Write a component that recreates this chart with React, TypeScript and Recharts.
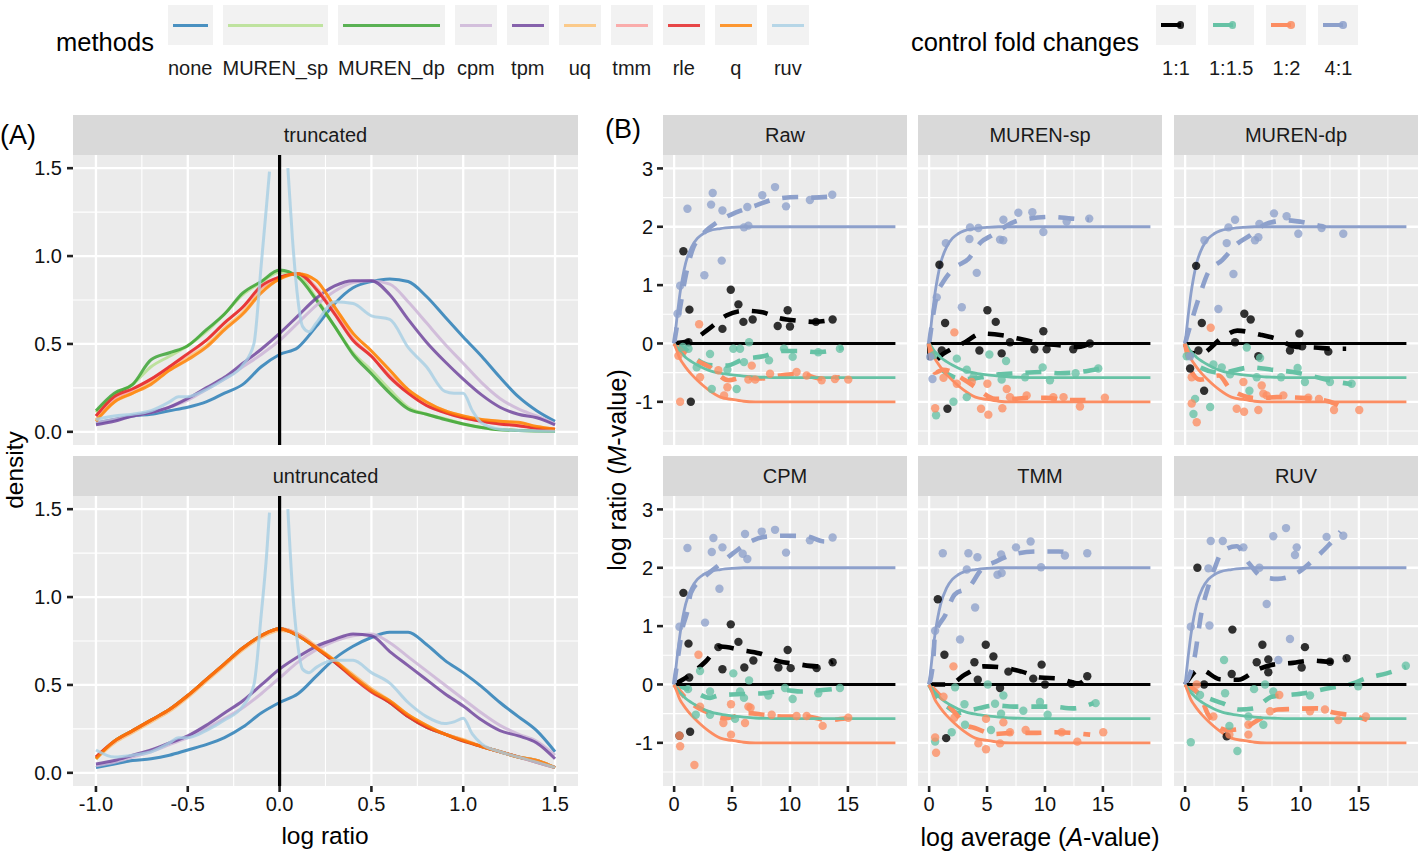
import React from 'react';
import { ComposedChart, LineChart, Line, Scatter, XAxis, YAxis, CartesianGrid, ReferenceLine } from 'recharts';

const FONT = '"Liberation Sans", Arial, Helvetica, sans-serif';
const PANEL_BG = '#EBEBEB';
const STRIP_BG = '#D9D9D9';

// ---------------- Panel A: density of log ratios ----------------
const methods = ['none', 'MUREN_sp', 'MUREN_dp', 'cpm', 'tpm', 'uq', 'tmm', 'rle', 'q', 'ruv'];
const methodColors = ['#1F78B4', '#B2DF8A', '#33A02C', '#CAB2D6', '#6A3D9A', '#FDBF6F', '#FB9A99', '#E31A1C', '#FF7F00', '#A6CEE3'];

const densityX = [-1, -0.9, -0.8, -0.7, -0.6, -0.5, -0.4, -0.3, -0.2, -0.1, 0, 0.1, 0.2, 0.3, 0.4, 0.5, 0.6, 0.7, 0.8, 0.9, 1.0, 1.1, 1.2, 1.3, 1.4, 1.5];
const ruvX = [-1, -0.9, -0.8, -0.7, -0.6, -0.55, -0.5, -0.4, -0.3, -0.2, -0.14, -0.1, -0.07, -0.055, -0.02, 0.02, 0.045, 0.07, 0.1, 0.125, 0.16, 0.2, 0.3, 0.4, 0.5, 0.6, 0.7, 0.8, 0.9, 0.95, 1.0, 1.05, 1.1, 1.2, 1.3, 1.4, 1.5];

const truncNone = [0.05, 0.07, 0.09, 0.1, 0.12, 0.14, 0.17, 0.22, 0.27, 0.37, 0.44, 0.48, 0.6, 0.73, 0.82, 0.855, 0.87, 0.855, 0.77, 0.655, 0.54, 0.43, 0.31, 0.2, 0.12, 0.06];
const truncMurenSp = [0.11, 0.21, 0.27, 0.37, 0.43, 0.49, 0.57, 0.67, 0.78, 0.85, 0.91, 0.89, 0.76, 0.6, 0.45, 0.35, 0.24, 0.14, 0.1, 0.075, 0.045, 0.025, 0.012, 0.008, 0.005, 0.003];
const truncMurenDp = [0.12, 0.22, 0.27, 0.41, 0.45, 0.49, 0.58, 0.67, 0.79, 0.855, 0.92, 0.88, 0.75, 0.6, 0.44, 0.33, 0.22, 0.13, 0.1, 0.07, 0.045, 0.025, 0.012, 0.008, 0.005, 0.003];
const truncCpm = [0.05, 0.07, 0.09, 0.11, 0.14, 0.18, 0.24, 0.3, 0.37, 0.44, 0.52, 0.62, 0.72, 0.8, 0.85, 0.86, 0.84, 0.74, 0.62, 0.5, 0.39, 0.28, 0.19, 0.13, 0.09, 0.045];
const truncTpm = [0.04, 0.06, 0.09, 0.11, 0.14, 0.19, 0.25, 0.31, 0.39, 0.47, 0.56, 0.66, 0.76, 0.83, 0.86, 0.86, 0.78, 0.64, 0.51, 0.4, 0.3, 0.21, 0.14, 0.1, 0.08, 0.04];
const truncUq = [0.07, 0.17, 0.22, 0.28, 0.35, 0.42, 0.49, 0.59, 0.68, 0.8, 0.87, 0.9, 0.86, 0.71, 0.56, 0.46, 0.35, 0.24, 0.17, 0.12, 0.09, 0.07, 0.06, 0.05, 0.03, 0.015];
const truncTmm = [0.09, 0.19, 0.24, 0.3, 0.37, 0.44, 0.52, 0.62, 0.71, 0.82, 0.88, 0.9, 0.82, 0.68, 0.53, 0.43, 0.32, 0.22, 0.15, 0.11, 0.08, 0.06, 0.045, 0.035, 0.02, 0.015];
const truncRle = [0.09, 0.2, 0.245, 0.3, 0.37, 0.445, 0.52, 0.62, 0.71, 0.83, 0.88, 0.9, 0.81, 0.67, 0.52, 0.43, 0.31, 0.22, 0.15, 0.11, 0.08, 0.06, 0.045, 0.035, 0.02, 0.015];
const truncQ = [0.06, 0.17, 0.22, 0.27, 0.35, 0.41, 0.48, 0.58, 0.67, 0.79, 0.87, 0.9, 0.86, 0.71, 0.56, 0.46, 0.35, 0.24, 0.17, 0.12, 0.09, 0.07, 0.06, 0.055, 0.03, 0.015];
const truncRuv = [0.07, 0.09, 0.1, 0.12, 0.17, 0.2, 0.2, 0.24, 0.3, 0.38, 0.5, 0.95, 1.3, 1.48, null, null, 1.5, 1.1, 0.75, 0.6, 0.57, 0.62, 0.74, 0.73, 0.66, 0.64, 0.48, 0.37, 0.23, 0.22, 0.22, 0.12, 0.05, 0.015, 0.008, 0.005, 0.003];

const untrNone = [0.03, 0.05, 0.07, 0.08, 0.1, 0.13, 0.16, 0.2, 0.26, 0.34, 0.4, 0.45, 0.55, 0.65, 0.72, 0.77, 0.8, 0.8, 0.73, 0.64, 0.57, 0.49, 0.4, 0.32, 0.24, 0.12];
const untrMurenSp = [0.09, 0.18, 0.24, 0.3, 0.36, 0.44, 0.53, 0.62, 0.71, 0.78, 0.82, 0.79, 0.71, 0.63, 0.55, 0.47, 0.4, 0.32, 0.26, 0.22, 0.18, 0.15, 0.12, 0.09, 0.07, 0.03];
const untrMurenDp = [0.08, 0.18, 0.24, 0.3, 0.36, 0.44, 0.53, 0.62, 0.71, 0.78, 0.82, 0.78, 0.71, 0.63, 0.55, 0.47, 0.4, 0.32, 0.26, 0.22, 0.185, 0.15, 0.12, 0.09, 0.07, 0.03];
const untrCpm = [0.04, 0.06, 0.09, 0.12, 0.16, 0.2, 0.25, 0.31, 0.37, 0.45, 0.54, 0.63, 0.7, 0.75, 0.78, 0.79, 0.74, 0.66, 0.58, 0.5, 0.42, 0.34, 0.27, 0.22, 0.18, 0.1];
const untrTpm = [0.05, 0.07, 0.1, 0.13, 0.17, 0.21, 0.27, 0.34, 0.41, 0.5, 0.59, 0.66, 0.72, 0.76, 0.79, 0.78, 0.69, 0.61, 0.53, 0.45, 0.38, 0.3, 0.24, 0.21, 0.17, 0.08];
const untrUq = [0.08, 0.17, 0.23, 0.29, 0.35, 0.43, 0.52, 0.61, 0.7, 0.77, 0.81, 0.79, 0.72, 0.64, 0.56, 0.48, 0.41, 0.33, 0.27, 0.22, 0.19, 0.15, 0.12, 0.09, 0.07, 0.03];
const untrTmm = [0.09, 0.18, 0.24, 0.3, 0.36, 0.44, 0.53, 0.62, 0.71, 0.78, 0.82, 0.79, 0.71, 0.63, 0.55, 0.47, 0.4, 0.32, 0.26, 0.22, 0.185, 0.15, 0.12, 0.09, 0.07, 0.03];
const untrRle = [0.09, 0.18, 0.24, 0.3, 0.36, 0.44, 0.53, 0.62, 0.71, 0.78, 0.82, 0.78, 0.71, 0.63, 0.54, 0.46, 0.4, 0.32, 0.26, 0.22, 0.18, 0.15, 0.12, 0.09, 0.06, 0.03];
const untrQ = [0.08, 0.18, 0.24, 0.3, 0.36, 0.44, 0.53, 0.62, 0.71, 0.78, 0.82, 0.78, 0.71, 0.64, 0.55, 0.47, 0.41, 0.33, 0.27, 0.22, 0.185, 0.15, 0.12, 0.09, 0.07, 0.03];
const untrRuv = [0.13, 0.09, 0.1, 0.12, 0.17, 0.2, 0.2, 0.24, 0.3, 0.38, 0.5, 0.9, 1.25, 1.48, null, null, 1.5, 1.05, 0.72, 0.59, 0.57, 0.6, 0.64, 0.64, 0.57, 0.51, 0.4, 0.32, 0.28, 0.29, 0.31, 0.22, 0.165, 0.12, 0.09, 0.06, 0.03];

const densityTicksX = [-1, -0.5, 0, 0.5, 1, 1.5];
const densityMinorX = [-0.75, -0.25, 0.25, 0.75, 1.25];
const densityTicksY = [0, 0.5, 1, 1.5];
const densityMinorY = [0.25, 0.75, 1.25];

// ---------------- Panel B: M vs A ----------------
const foldLabels = ['1:1', '1:1.5', '1:2', '4:1'];
const foldColors = ['#000000', '#66C2A5', '#FC8D62', '#8DA0CB'];

const theoryA = [0, 0.25, 0.5, 0.75, 1, 1.5, 2, 2.5, 3, 4, 5, 6, 7, 8, 10, 19.1];
const theory11 = [0, 0, 0, 0, 0, 0, 0, 0, 0, 0, 0, 0, 0, 0, 0, 0];
const theory15 = [0, -0.07, -0.14, -0.19, -0.24, -0.31, -0.37, -0.42, -0.46, -0.51, -0.54, -0.56, -0.575, -0.58, -0.585, -0.585];
const theory12 = [0, -0.13, -0.26, -0.34, -0.41, -0.53, -0.63, -0.72, -0.8, -0.92, -0.96, -0.99, -1, -1, -1, -1];
const theory41 = [0, 0.45, 0.85, 1.15, 1.38, 1.65, 1.8, 1.88, 1.93, 1.97, 1.99, 2, 2, 2, 2, 2];

// Raw
const raw11Pts = [[0.8, 1.58], [1.32, 0.58], [4.17, 0.25], [4.89, 0.92], [5.55, 0.67], [5.98, 0.37], [6.78, 0.41], [8.94, 0.3], [9.8, 0.57], [10.0, 0.29], [12.24, 0.37], [13.68, 0.41], [1.44, -1.0], [1.24, 0.02]];
const raw11Fit = [[0, 0], [1.5, 0.05], [3, 0.25], [4.5, 0.48], [6, 0.56], [7.5, 0.54], [9, 0.44], [10.7, 0.39], [12.2, 0.37], [13.9, 0.42]];
const raw15Pts = [[0.75, -0.06], [1.24, -0.09], [1.95, -0.41], [3.1, -0.18], [3.25, -0.78], [5.11, -0.09], [5.69, -0.09], [6.47, 0.02], [6.03, -0.32], [8.19, -0.29], [9.48, -0.09], [10.23, -0.23], [12.44, -0.15], [14.31, -0.09], [5.4, -0.78], [4.6, -0.45]];
const raw15Fit = [[0, 0], [1, -0.1], [2, -0.28], [3, -0.37], [4.5, -0.38], [6, -0.27], [7.7, -0.22], [9.3, -0.13], [10.9, -0.13], [12.3, -0.15], [14.6, -0.07]];
const raw12Pts = [[0.52, -1.0], [2.16, 0.33], [2.24, -0.58], [3.82, -0.46], [4.31, -0.89], [6.7, -0.38], [6.41, -0.62], [7.0, -0.62], [8.28, -0.52], [10.57, -0.49], [11.44, -0.55], [12.73, -0.63], [13.88, -0.61], [15.03, -0.62], [0.37, -0.21], [4.6, -0.75]];
const raw12Fit = [[0, 0], [1.4, -0.23], [3.1, -0.41], [4.7, -0.63], [6, -0.58], [7.4, -0.6], [9.1, -0.55], [10.9, -0.52], [12.6, -0.6], [14.3, -0.58]];
const raw41Pts = [[1.15, 2.31], [3.33, 2.58], [3.19, 2.38], [4.17, 2.28], [6.32, 2.34], [7.61, 2.54], [8.71, 2.68], [9.66, 2.35], [11.72, 2.46], [13.65, 2.55], [6.03, 1.99], [6.41, 2.02], [4.11, 1.42], [2.61, 1.17], [0.52, 0.99], [0.29, 0.51]];
const raw41Fit = [[0, 0], [0.52, 0.62], [1.03, 1.19], [1.67, 1.65], [2.24, 1.82], [3.97, 2.11], [5.4, 2.25], [7.13, 2.37], [8.85, 2.48], [10.86, 2.51], [12.0, 2.5], [13.65, 2.52]];

// MUREN-sp
const sp11Pts = [[0.89, 1.35], [1.38, 0.35], [5.03, 0.57], [5.75, 0.37], [9.86, 0.21], [1.09, -0.12], [4.34, -0.12], [6.26, -0.17], [6.98, 0.02], [9.08, -0.1], [10.14, -0.1], [12.44, -0.1], [13.88, 0.0], [1.58, -1.12]];
const sp11Fit = [[0, 0], [0.1, -0.35], [1.2, -0.18], [3.1, 0.02], [4.5, 0.17], [6.3, 0.14], [7.8, 0.08], [9.7, 0], [11.2, -0.03], [12.9, -0.06], [14, 0.02]];
const sp15Pts = [[2.39, -0.26], [5.2, -0.19], [6.64, -0.3], [3.25, -0.45], [3.82, -0.58], [6.26, -0.62], [8.28, -0.58], [9.8, -0.41], [10.43, -0.63], [12.64, -0.51], [14.6, -0.43], [2.1, -1.0], [0.6, -1.23], [3.25, -0.92], [0.4, -0.2]];
const sp15Fit = [[0, 0], [0.95, -0.43], [3, -0.61], [4.5, -0.58], [6, -0.53], [7.6, -0.51], [9.7, -0.49], [11.3, -0.51], [13, -0.49], [14.7, -0.43]];
const sp12Pts = [[2.18, 0.19], [1.24, -0.59], [2.39, -0.69], [3.68, -0.66], [5.03, -0.69], [6.7, -0.78], [6.98, -0.92], [8.42, -0.89], [10.72, -0.92], [11.6, -0.92], [13.02, -1.08], [15.17, -0.93], [0.52, -1.11], [4.48, -1.12], [5.11, -1.22], [6.32, -1.11]];
const sp12Fit = [[0, 0], [0.5, -0.5], [1.2, -0.45], [3.1, -0.63], [4, -0.75], [5.7, -0.95], [7.3, -0.95], [8.7, -0.93], [10.1, -0.93], [11.9, -0.97], [13.5, -0.97]];
const sp41Pts = [[1.44, 1.72], [3.53, 1.99], [4.25, 1.98], [3.48, 1.79], [6.41, 2.12], [7.7, 2.24], [8.91, 2.25], [6.12, 1.78], [6.4, 1.77], [9.86, 1.91], [11.87, 2.09], [13.82, 2.14], [4.11, 1.21], [2.82, 0.62], [0.66, 0.79], [0.09, -0.23], [0.29, -0.61]];
const sp41Fit = [[0, 0], [0.7, 0.85], [1.2, 1.05], [2.1, 1.28], [3.4, 1.45], [4.5, 1.74], [5.4, 1.85], [7.3, 2.08], [8.7, 2.14], [10.6, 2.17], [12.3, 2.14], [13.8, 2.12]];

// MUREN-dp
const dp11Pts = [[0.95, 1.33], [1.44, 0.35], [5.11, 0.51], [5.66, 0.41], [4.31, 0.02], [9.86, 0.17], [9.05, -0.12], [12.36, -0.14], [6.32, -0.22], [1.15, -0.12], [0.43, -0.43], [1.64, -0.81], [10.1, -0.05]];
const dp11Fit = [[0, 0], [0.3, -0.15], [1.3, -0.18], [3.2, 0.1], [4.5, 0.22], [6.5, 0.15], [7.9, 0.08], [9.6, -0.06], [11.2, -0.07], [12.9, -0.09], [13.9, -0.09]];
const dp15Pts = [[0.14, -0.22], [2.44, -0.36], [3.16, -0.41], [5.32, -0.07], [6.47, -0.25], [3.88, -0.53], [6.18, -0.58], [8.28, -0.58], [9.71, -0.42], [10.34, -0.66], [12.5, -0.66], [14.37, -0.69], [5.55, -0.81], [2.16, -1.09], [0.72, -1.21], [0.86, -0.95]];
const dp15Fit = [[0, 0], [1.3, -0.41], [3, -0.5], [5.75, -0.41], [7.5, -0.45], [9.3, -0.49], [10.8, -0.55], [12.4, -0.63], [14.4, -0.7]];
const dp12Pts = [[2.21, 0.27], [0.57, -0.58], [5.03, -0.66], [6.61, -0.72], [6.75, -0.86], [7.04, -0.89], [8.48, -0.89], [10.63, -0.93], [11.55, -0.95], [12.85, -1.14], [15.03, -1.14], [4.45, -1.12], [5.09, -1.17], [6.32, -1.14], [1.0, -1.35], [0.57, -1.03]];
const dp12Fit = [[0, 0], [0.6, -0.5], [1.3, -0.62], [2.9, -0.55], [3.9, -0.78], [6.2, -0.94], [7.9, -0.92], [10, -0.93], [12.5, -1.0], [13.2, -1.06]];
const dp41Pts = [[1.67, 1.77], [3.74, 1.99], [4.31, 2.12], [3.59, 1.72], [6.41, 2.05], [6.03, 1.77], [6.32, 1.82], [7.67, 2.23], [8.76, 2.18], [9.77, 1.88], [11.78, 1.98], [13.65, 1.88], [4.17, 1.19], [2.87, 0.59], [0.43, -0.22]];
const dp41Fit = [[0, 0], [1.3, 0.85], [2, 1.22], [3.2, 1.43], [4.5, 1.71], [5.6, 1.85], [7, 2.05], [8.8, 2.11], [10.6, 2.06], [12.1, 1.99]];

// CPM
const cpm11Pts = [[0.8, 1.57], [1.24, 0.7], [3.82, 0.64], [4.17, 0.26], [4.89, 1.03], [5.55, 0.73], [6.06, 0.29], [6.84, 0.41], [9.0, 0.29], [9.8, 0.59], [10.06, 0.28], [12.3, 0.28], [13.68, 0.38], [1.38, -0.81], [0.46, -0.88], [1.3, 0.12]];
const cpm11Fit = [[0, 0], [1.4, 0.17], [2.7, 0.39], [4, 0.65], [5.8, 0.59], [7.4, 0.53], [9, 0.4], [10.6, 0.35], [12.3, 0.31], [13.7, 0.39]];
const cpm15Pts = [[2.24, 0.23], [5.11, 0.19], [6.47, 0.07], [3.1, -0.12], [5.69, -0.12], [6.03, -0.23], [8.13, -0.19], [9.57, -0.06], [10.23, -0.25], [12.44, -0.15], [14.31, -0.06], [1.87, -0.52], [5.26, -0.59], [3.1, -0.52], [1.2, -0.08]];
const cpm15Fit = [[0, 0], [1.4, -0.09], [3.1, -0.23], [3.8, -0.19], [6.4, -0.16], [7.8, -0.15], [9.7, -0.1], [10.9, -0.12], [12.6, -0.1], [14.6, -0.06]];
const cpm12Pts = [[2.1, 0.51], [2.24, -0.38], [4.91, -0.34], [4.25, -0.66], [4.91, -0.86], [6.12, -0.66], [6.41, -0.38], [6.6, -0.4], [8.42, -0.52], [10.57, -0.54], [11.44, -0.54], [12.82, -0.71], [15.03, -0.57], [0.52, -1.06], [1.75, -1.38], [0.46, -0.88]];
const cpm12Fit = [[0, 0], [1.4, -0.31], [3, -0.49], [4.5, -0.58], [6.3, -0.49], [7.8, -0.52], [9.6, -0.55], [11.4, -0.55], [13.2, -0.61], [14.9, -0.58]];
const cpm41Pts = [[1.15, 2.34], [3.39, 2.51], [3.25, 2.27], [4.17, 2.35], [6.12, 2.58], [5.92, 2.24], [6.32, 2.15], [7.56, 2.62], [8.71, 2.65], [9.66, 2.26], [11.72, 2.47], [13.68, 2.52], [3.91, 1.64], [2.67, 1.06], [0.46, 0.99]];
const cpm41Fit = [[0, 0], [0.3, 0.42], [0.75, 0.99], [1.1, 1.22], [1.45, 1.57], [2.5, 1.82], [3.7, 2.02], [5.1, 2.25], [6.3, 2.42], [7.8, 2.53], [9.6, 2.55], [11.4, 2.54], [13, 2.45], [13.7, 2.54]];

// TMM
const tmm11Pts = [[0.75, 1.46], [1.32, 0.51], [4.89, 0.68], [5.55, 0.48], [3.91, 0.38], [4.2, 0.08], [9.71, 0.34], [8.99, 0.1], [12.3, 0.01], [13.65, 0.14], [6.12, -0.06], [1.47, -0.92], [6.84, 0.22], [10.0, 0.0]];
const tmm11Fit = [[0, 0], [1.7, 0], [3.1, 0.17], [4.7, 0.31], [6.4, 0.29], [8, 0.22], [9.6, 0.12], [11.2, 0.1], [12.9, 0.02], [13.7, 0.14]];
const tmm15Pts = [[2.24, -0.05], [5.06, 0.0], [6.41, -0.19], [3.05, -0.34], [5.69, -0.33], [9.57, -0.3], [6.21, -0.5], [8.13, -0.45], [10.23, -0.52], [14.37, -0.32], [3.1, -0.69], [1.95, -0.82], [5.34, -0.78], [0.52, -0.98]];
const tmm15Fit = [[0, 0], [0.5, -0.18], [1.7, -0.4], [2.5, -0.49], [3.8, -0.43], [5.7, -0.36], [7.3, -0.38], [9, -0.38], [10.6, -0.38], [12.4, -0.41], [14.2, -0.32]];
const tmm12Pts = [[2.1, 0.31], [2.18, -0.57], [4.91, -0.59], [6.41, -0.65], [6.98, -0.82], [8.33, -0.78], [11.44, -0.82], [12.79, -0.98], [15.03, -0.82], [4.25, -1.01], [4.91, -1.11], [6.12, -1.01], [0.52, -0.91], [0.6, -1.17], [1.24, -0.21]];
const tmm12Fit = [[0, 0], [1.4, -0.29], [2.5, -0.55], [3.1, -0.69], [4, -0.75], [5.6, -0.85], [7.1, -0.83], [9, -0.83], [10.7, -0.82], [12.3, -0.83], [13.9, -0.86]];
const tmm41Pts = [[1.18, 2.25], [3.39, 2.25], [4.17, 2.18], [3.25, 1.97], [6.21, 2.23], [6.26, 1.91], [5.9, 1.88], [7.5, 2.35], [8.76, 2.45], [9.66, 2.01], [11.72, 2.21], [13.65, 2.25], [3.97, 1.32], [2.67, 0.77], [0.52, 0.92]];
const tmm41Fit = [[0, 0], [0.37, 0.45], [0.5, 0.85], [1.4, 1.19], [2.2, 1.54], [3.5, 1.68], [4.5, 1.97], [5.8, 2.11], [7.7, 2.25], [9.3, 2.28], [11.2, 2.28], [12.6, 2.22]];

// RUV
const ruv11Pts = [[1.06, 2.0], [4.08, 0.94], [6.67, 0.68], [6.18, 0.38], [7.18, 0.43], [7.18, 0.21], [10.34, 0.64], [10.06, 0.29], [12.5, 0.39], [13.94, 0.45], [4.02, 0.18], [1.64, 0.0], [3.59, -0.89]];
const ruv11Fit = [[0, 0], [1.3, 0.26], [3, 0.09], [4.6, 0.08], [6.2, 0.25], [7.6, 0.34], [9.3, 0.37], [10.9, 0.41], [12.5, 0.39], [13.9, 0.45]];
const ruv15Pts = [[3.36, 0.42], [3.45, -0.15], [5.95, -0.08], [7.61, -0.12], [10.78, -0.19], [14.94, -0.03], [19.05, 0.32], [5.46, -0.55], [6.75, -0.69], [3.82, -0.71], [0.49, -0.99], [4.51, -1.14], [1.29, -0.18], [6.9, 0.0]];
const ruv15Fit = [[0, 0], [1.6, -0.2], [3.2, -0.32], [4.7, -0.43], [5.9, -0.41], [7.5, -0.21], [9, -0.18], [10.3, -0.15], [12.5, -0.06], [14.2, 0], [15.7, 0.11], [17.4, 0.19], [19.05, 0.3]];
const ruv12Pts = [[1.0, 0.0], [8.13, -0.18], [7.33, -0.46], [10.78, -0.46], [12.07, -0.43], [13.22, -0.61], [15.6, -0.55], [3.82, -0.86], [5.46, -0.86], [5.46, -0.69], [2.44, -0.55]];
const ruv12Fit = [[0, 0], [1.3, -0.2], [2, -0.52], [3.6, -0.78], [5, -0.75], [6.3, -0.61], [8, -0.43], [9.3, -0.42], [11.4, -0.41], [12.8, -0.48], [14.8, -0.55], [15.7, -0.61]];
const ruv41Pts = [[2.21, 2.46], [3.25, 2.46], [2.01, 1.99], [5.03, 2.35], [6.41, 2.0], [7.61, 2.54], [8.71, 2.68], [9.63, 2.35], [9.48, 2.22], [12.21, 2.53], [13.65, 2.55], [7.04, 1.38], [9.05, 0.78], [8.05, 0.42], [0.49, 0.99], [2.1, 1.01]];
const ruv41Fit = [[0, 0], [0.8, 0.45], [1.4, 1.22], [2, 1.68], [2.6, 2.02], [3.2, 2.28], [4.45, 2.37], [5.5, 2.08], [6.6, 1.85], [8, 1.81], [9.9, 1.94], [11.1, 2.14], [12.4, 2.39], [13.4, 2.62]];

const facetTitles = ['Raw', 'MUREN-sp', 'MUREN-dp', 'CPM', 'TMM', 'RUV'];
const facetPoints = [
  [raw11Pts, raw15Pts, raw12Pts, raw41Pts],
  [sp11Pts, sp15Pts, sp12Pts, sp41Pts],
  [dp11Pts, dp15Pts, dp12Pts, dp41Pts],
  [cpm11Pts, cpm15Pts, cpm12Pts, cpm41Pts],
  [tmm11Pts, tmm15Pts, tmm12Pts, tmm41Pts],
  [ruv11Pts, ruv15Pts, ruv12Pts, ruv41Pts],
];
const facetFits = [
  [raw11Fit, raw15Fit, raw12Fit, raw41Fit],
  [sp11Fit, sp15Fit, sp12Fit, sp41Fit],
  [dp11Fit, dp15Fit, dp12Fit, dp41Fit],
  [cpm11Fit, cpm15Fit, cpm12Fit, cpm41Fit],
  [tmm11Fit, tmm15Fit, tmm12Fit, tmm41Fit],
  [ruv11Fit, ruv15Fit, ruv12Fit, ruv41Fit],
];
const theoryCurves = [theory11, theory15, theory12, theory41];

const maTicksX = [0, 5, 10, 15];
const maMinorX = [2.5, 7.5, 12.5, 17.5];
const maTicksY = [-1, 0, 1, 2, 3];
const maMinorY = [-1.5, -0.5, 0.5, 1.5, 2.5];

// ---------------- helpers ----------------
const toXY = (xs: number[], ys: (number | null)[]) => xs.map((x, i) => ({ x, y: ys[i] }));
const toAM = (pairs: number[][]) => pairs.map(([a, m]) => ({ a, m }));

const densityTrunc = [truncNone, truncMurenSp, truncMurenDp, truncCpm, truncTpm, truncUq, truncTmm, truncRle, truncQ];
const densityUntr = [untrNone, untrMurenSp, untrMurenDp, untrCpm, untrTpm, untrUq, untrTmm, untrRle, untrQ];

function Text({ x, y, size, children, rotate, color }: any) {
  return (
    <div
      style={{
        position: 'absolute', left: x, top: y, fontSize: size, lineHeight: 1, whiteSpace: 'nowrap',
        color: color || '#000', fontFamily: FONT,
        transform: `translate(-50%, -50%)${rotate ? ' rotate(-90deg)' : ''}`,
      }}
    >
      {children}
    </div>
  );
}

function Strip({ x, y, w, h, label, size }: any) {
  return (
    <div style={{
      position: 'absolute', left: x, top: y, width: w, height: h, background: STRIP_BG,
      display: 'flex', alignItems: 'center', justifyContent: 'center',
      fontSize: size, fontFamily: FONT, color: '#1A1A1A',
    }}>{label}</div>
  );
}

const A_LEFT = 73;
const A_W = 505;

function DensityPanel({ ys, ruv, showX, top }: any) {
  const H = 290 + (showX ? 45 : 0);
  return (
    <div style={{ position: 'absolute', left: 0, top }}>
      <LineChart width={A_LEFT + A_W} height={H} margin={{ top: 0, right: 0, bottom: 0, left: 0 }}>
        <CartesianGrid fill={PANEL_BG} fillOpacity={1} stroke="#FFFFFF" strokeWidth={1.1}
          horizontalValues={densityMinorY} verticalValues={densityMinorX} />
        <CartesianGrid fill="none" stroke="#FFFFFF" strokeWidth={2.3}
          horizontalValues={densityTicksY} verticalValues={densityTicksX} />
        <XAxis type="number" dataKey="x" domain={[-1.125, 1.625]} ticks={densityTicksX} hide={!showX} height={45}
          allowDataOverflow axisLine={false} tickSize={6} tickMargin={5}
          tickLine={{ stroke: '#222', strokeWidth: 2.6 }}
          tick={{ fill: '#111', fontSize: 20, fontFamily: FONT }}
          tickFormatter={(v: number) => v.toFixed(1)} />
        <YAxis type="number" domain={[-0.075, 1.575]} ticks={densityTicksY} width={A_LEFT}
          allowDataOverflow axisLine={false} tickSize={6} tickMargin={5}
          tickLine={{ stroke: '#222', strokeWidth: 2.6 }}
          tick={{ fill: '#111', fontSize: 20, fontFamily: FONT }}
          tickFormatter={(v: number) => v.toFixed(1)} />
        {ys.map((arr: number[], i: number) => (
          <Line key={methods[i]} data={toXY(densityX, arr)} dataKey="y" type="monotone"
            stroke={methodColors[i]} strokeOpacity={0.8} strokeWidth={3} dot={false} activeDot={false}
            isAnimationActive={false} />
        ))}
        <Line key="ruv" data={toXY(ruvX, ruv)} dataKey="y" type="monotone"
          stroke={methodColors[9]} strokeOpacity={0.8} strokeWidth={3} dot={false} activeDot={false}
          isAnimationActive={false} />
        <ReferenceLine x={0} stroke="#000" strokeWidth={3.2} />
      </LineChart>
    </div>
  );
}

function MAFacet({ idx, left, top, showX, showY }: any) {
  const yW = showY ? 50 : 0;
  const H = 290 + (showX ? 45 : 0);
  return (
    <div style={{ position: 'absolute', left: left - yW, top }}>
      <ComposedChart width={yW + 244} height={H} margin={{ top: 0, right: 0, bottom: 0, left: 0 }}>
        <CartesianGrid fill={PANEL_BG} fillOpacity={1} stroke="#FFFFFF" strokeWidth={1.1}
          horizontalValues={maMinorY} verticalValues={maMinorX} />
        <CartesianGrid fill="none" stroke="#FFFFFF" strokeWidth={2.3}
          horizontalValues={maTicksY} verticalValues={maTicksX} />
        <XAxis type="number" dataKey="a" domain={[-0.96, 20.1]} ticks={maTicksX} hide={!showX} height={45}
          allowDataOverflow axisLine={false} tickSize={6} tickMargin={5}
          tickLine={{ stroke: '#222', strokeWidth: 2.6 }}
          tick={{ fill: '#111', fontSize: 20, fontFamily: FONT }} />
        <YAxis type="number" dataKey="m" domain={[-1.74, 3.23]} ticks={maTicksY} hide={!showY} width={50}
          allowDataOverflow axisLine={false} tickSize={6} tickMargin={4}
          tickLine={{ stroke: '#222', strokeWidth: 2.6 }}
          tick={{ fill: '#111', fontSize: 20, fontFamily: FONT }} />
        {facetPoints[idx].map((pts: number[][], g: number) => (
          <Scatter key={'p' + g} data={toAM(pts)} isAnimationActive={false}
            shape={(p: any) => <circle cx={p.cx} cy={p.cy} r={4.2} fill={foldColors[g]} fillOpacity={g === 0 ? 0.8 : 0.78} />} />
        ))}
        {facetFits[idx].map((fit: number[][], g: number) => (
          <Line key={'f' + g} data={toAM(fit)} dataKey="m" type="monotone" stroke={foldColors[g]}
            strokeWidth={4.6} strokeDasharray="16 13" dot={false} activeDot={false} isAnimationActive={false} />
        ))}
        {theoryCurves.map((c: number[], g: number) => (
          <Line key={'t' + g} data={theoryA.map((a, i) => ({ a, m: c[i] }))} dataKey="m" type="monotone"
            stroke={foldColors[g]} strokeWidth={g === 0 ? 3 : 2.8} dot={false} activeDot={false} isAnimationActive={false} />
        ))}
      </ComposedChart>
    </div>
  );
}

function MethodLegend() {
  return (
    <>
      <Text x={105} y={43} size={25.5}>methods</Text>
      <div style={{ position: 'absolute', left: 168, top: 5, display: 'flex', gap: 10, fontFamily: FONT }}>
        {methods.map((m, i) => (
          <div key={m} style={{ display: 'flex', flexDirection: 'column', alignItems: 'center', minWidth: 42 }}>
            <div style={{ position: 'relative', alignSelf: 'stretch', height: 40, background: '#F2F2F2' }}>
              <div style={{ position: 'absolute', left: 5, right: 5, top: 18.5, height: 3, background: methodColors[i], opacity: 0.8 }} />
            </div>
            <div style={{ fontSize: 20, lineHeight: 1, marginTop: 13, color: '#1A1A1A', whiteSpace: 'nowrap' }}>{m}</div>
          </div>
        ))}
      </div>
    </>
  );
}

function FoldLegend() {
  return (
    <>
      <Text x={1025} y={43} size={25.5}>control fold changes</Text>
      <div style={{ position: 'absolute', left: 1156, top: 5, display: 'flex', gap: 12, fontFamily: FONT }}>
        {foldLabels.map((f, i) => (
          <div key={f} style={{ display: 'flex', flexDirection: 'column', alignItems: 'center', minWidth: 40 }}>
            <div style={{ position: 'relative', alignSelf: 'stretch', height: 40, background: '#F2F2F2' }}>
              <div style={{ position: 'absolute', left: 5, width: 20, top: 17.7, height: 4.6, background: foldColors[i] }} />
              <div style={{ position: 'absolute', left: 20.5, top: 16.3, width: 7.6, height: 7.6, borderRadius: '50%', background: foldColors[i], opacity: 0.85 }} />
            </div>
            <div style={{ fontSize: 20, lineHeight: 1, marginTop: 13, color: '#1A1A1A', whiteSpace: 'nowrap', padding: '0 1px' }}>{f}</div>
          </div>
        ))}
      </div>
    </>
  );
}

export default function App() {
  const colX = [663, 918, 1174];
  const rowStripY = [115, 456];
  const rowPanelY = [155, 496];
  return (
    <div style={{ position: 'absolute', left: 0, top: 0, width: 1425, height: 852, background: '#FFFFFF', overflow: 'hidden', fontFamily: FONT }}>
      <MethodLegend />
      <FoldLegend />

      {/* Panel A */}
      <Text x={18} y={135} size={27}>(A)</Text>
      <Strip x={A_LEFT} y={115} w={A_W} h={40} label="truncated" size={20} />
      <Strip x={A_LEFT} y={456} w={A_W} h={40} label="untruncated" size={20} />
      <DensityPanel ys={densityTrunc} ruv={truncRuv} showX={false} top={155} />
      <DensityPanel ys={densityUntr} ruv={untrRuv} showX={true} top={496} />
      <Text x={15} y={470} size={24.5} rotate>density</Text>
      <Text x={325} y={836} size={24.5}>log ratio</Text>

      {/* Panel B */}
      <Text x={623} y={129} size={27}>(B)</Text>
      {facetTitles.map((t, i) => {
        const r = Math.floor(i / 3);
        const c = i % 3;
        return (
          <React.Fragment key={t}>
            <Strip x={colX[c]} y={rowStripY[r]} w={244} h={40} label={t} size={20} />
            <MAFacet idx={i} left={colX[c]} top={rowPanelY[r]} showX={r === 1} showY={c === 0} />
          </React.Fragment>
        );
      })}
      <Text x={617} y={470} size={25} rotate>log ratio (<i>M</i>-value)</Text>
      <Text x={1040} y={837} size={25}>log average (<i>A</i>-value)</Text>
    </div>
  );
}
